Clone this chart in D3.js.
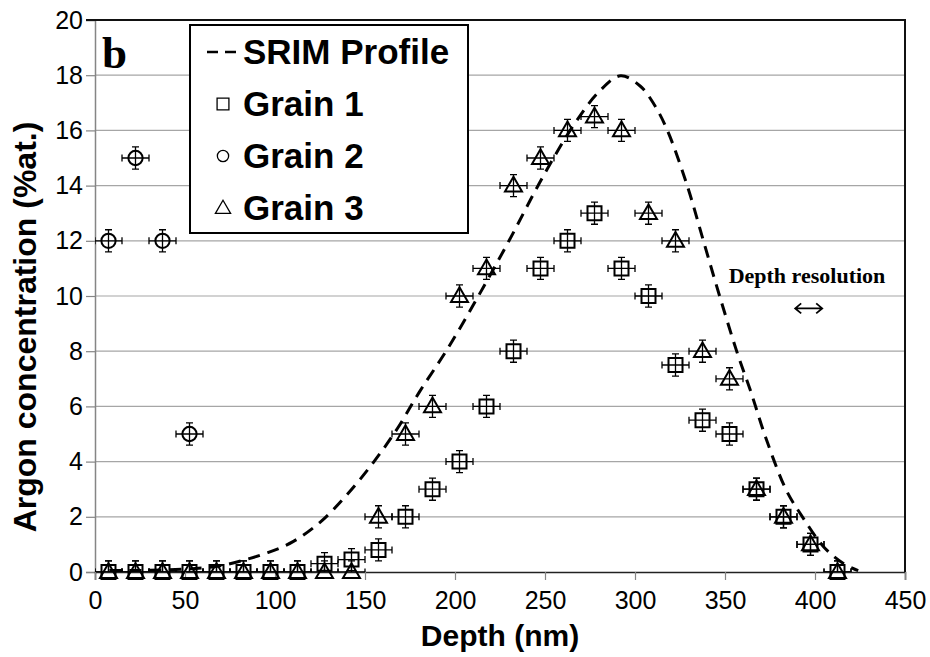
<!DOCTYPE html>
<html>
<head>
<meta charset="UTF-8">
<title>Argon concentration depth profile</title>
<script src="https://cdn.jsdelivr.net/npm/d3@7"></script>
<style>
  body { margin: 0; background: #fff; }
  text { fill: #000; }
  .sans { font-family: Arial, "Liberation Sans", sans-serif; }
  .serif { font-family: "Liberation Serif", "Times New Roman", serif; }
</style>
</head>
<body>
<svg id="chart" width="930" height="657"></svg>
<script>
// measured depths (nm), shared by grain 1 and grain 3
const depths = [7.5, 22.5, 37.5, 52.5, 67.5, 82.5, 97.5, 112.5, 127.5, 142.5, 157.5, 172.5, 187.5, 202.5,
                217.5, 232.5, 247.5, 262.5, 277.5, 292.5, 307.5, 322.5, 337.5, 352.5, 367.5, 382.5, 397.5, 412.5];
const grain1 = [0, 0, 0, 0, 0, 0, 0, 0, 0.3, 0.45, 0.8, 2, 3, 4,
                6, 8, 11, 12, 13, 11, 10, 7.5, 5.5, 5, 3, 2, 1, 0];
const grain3 = [0, 0, 0, 0, 0, 0, 0, 0, 0, 0, 2, 5, 6, 10,
                11, 14, 15, 16, 16.5, 16, 13, 12, 8, 7, 3, 2, 1, 0];
const grain2Depths = [7.5, 22.5, 37.5, 52.5];
const grain2 = [12, 15, 12, 5];

// SRIM simulated profile
const srimDepths = [8, 30, 54, 69, 82, 96, 110, 125, 140, 155, 168, 180, 196, 213, 230, 247, 265, 280, 292,
                    303, 311, 318, 329, 338, 347, 357, 364, 373, 384, 393, 405, 416, 424];
const srimValues = [0.05, 0.06, 0.12, 0.22, 0.42, 0.7, 1.1, 1.8, 2.8, 4.0, 5.2, 6.5, 8.1, 10, 12, 14.1, 16.1, 17.4, 17.98,
                    17.6, 16.9, 16, 14, 12, 10, 7.9, 6.6, 4.8, 2.97, 2.0, 0.9, 0.3, 0.05];

const depthErr = 7.5;   // nm
const concErr = 0.4;    // %at.

const xTicks = [0, 50, 100, 150, 200, 250, 300, 350, 400, 450];
const yTicks = [0, 2, 4, 6, 8, 10, 12, 14, 16, 18, 20];
const legendLabels = ["SRIM Profile", "Grain 1", "Grain 2", "Grain 3"];

const svg = d3.select("#chart");
const plot = { left: 95, right: 905, top: 20, bottom: 572 };

const x = d3.scaleLinear().domain([0, 450]).range([plot.left, plot.right]);
const y = d3.scaleLinear().domain([0, 20]).range([plot.bottom, plot.top]);

svg.append("defs").append("clipPath").attr("id", "plotclip")
  .append("rect")
  .attr("x", plot.left).attr("y", plot.top)
  .attr("width", plot.right - plot.left).attr("height", plot.bottom - plot.top);

// gridlines
svg.append("g")
  .selectAll("line")
  .data(yTicks.filter(d => d > 0 && d < 20))
  .join("line")
  .attr("x1", plot.left).attr("x2", plot.right)
  .attr("y1", d => y(d)).attr("y2", d => y(d))
  .attr("stroke", "#a6a6a6").attr("stroke-width", 1.2);

// y axis
const yAxis = svg.append("g")
  .attr("transform", `translate(${plot.left},0)`)
  .call(d3.axisLeft(y).tickValues(yTicks).tickSize(9).tickPadding(3).tickFormat(d3.format("d")));
yAxis.select(".domain").attr("stroke", "#858585").attr("stroke-width", 1.5);
yAxis.selectAll(".tick line").attr("stroke", "#858585").attr("stroke-width", 1.2);
yAxis.selectAll(".tick text").attr("class", "sans").attr("font-size", 25).attr("fill", "#000");

// x axis
const xAxis = svg.append("g")
  .attr("transform", `translate(0,${plot.bottom})`)
  .call(d3.axisBottom(x).tickValues(xTicks).tickSize(8).tickPadding(11));
xAxis.select(".domain").attr("stroke", "#222").attr("stroke-width", 1.5);
xAxis.selectAll(".tick line").attr("stroke", "#858585").attr("stroke-width", 1.2);
xAxis.selectAll(".tick text").attr("class", "sans").attr("font-size", 25).attr("fill", "#000");

// top and right border
svg.append("path")
  .attr("d", `M${plot.left - 9},${plot.top}H${plot.right}V${plot.bottom}`)
  .attr("fill", "none").attr("stroke", "#111").attr("stroke-width", 2);

// SRIM curve
const srim = srimDepths.map((d, i) => [d, srimValues[i]]);
svg.append("path")
  .datum(srim)
  .attr("d", d3.line().x(d => x(d[0])).y(d => y(d[1])).curve(d3.curveCatmullRom.alpha(0.5)))
  .attr("fill", "none").attr("stroke", "#000").attr("stroke-width", 3)
  .attr("stroke-dasharray", "12,8");

const series = [
  { name: "Grain 1", shape: "square", pts: depths.map((d, i) => [d, grain1[i]]) },
  { name: "Grain 2", shape: "circle", pts: grain2Depths.map((d, i) => [d, grain2[i]]) },
  { name: "Grain 3", shape: "triangle", pts: depths.map((d, i) => [d, grain3[i]]) }
];

// error bars, clipped to the plot area
const errG = svg.append("g").attr("clip-path", "url(#plotclip)")
  .attr("stroke", "#000").attr("stroke-width", 1.3);
series.forEach(s => {
  s.pts.forEach(p => {
    const cx = x(p[0]), cy = y(p[1]);
    const x0 = x(p[0] - depthErr), x1 = x(p[0] + depthErr);
    const y0 = y(p[1] - concErr), y1 = y(p[1] + concErr);
    errG.append("path")
      .attr("d", `M${x0},${cy}H${x1}M${x0},${cy - 3.5}V${cy + 3.5}M${x1},${cy - 3.5}V${cy + 3.5}` +
                 `M${cx},${y0}V${y1}M${cx - 3.5},${y0}H${cx + 3.5}M${cx - 3.5},${y1}H${cx + 3.5}`)
      .attr("fill", "none");
  });
});

const symbolPath = (shape, size) => {
  if (shape === "square") return d3.symbol(d3.symbolSquare, size)();
  if (shape === "circle") return d3.symbol(d3.symbolCircle, size)();
  return d3.symbol(d3.symbolTriangle, size)();
};

series.forEach(s => {
  svg.append("g").selectAll("path")
    .data(s.pts)
    .join("path")
    .attr("transform", d => `translate(${x(d[0])},${y(d[1]) + (s.shape === "triangle" ? 1 : 0)})`)
    .attr("d", symbolPath(s.shape, s.shape === "triangle" ? 125 : s.shape === "circle" ? 160 : 196))
    .attr("fill", "none").attr("stroke", "#000").attr("stroke-width", 2);
});

// axis titles
svg.append("text")
  .attr("class", "sans")
  .attr("x", (plot.left + plot.right) / 2).attr("y", 646)
  .attr("text-anchor", "middle").attr("font-size", 30).attr("font-weight", "bold")
  .text("Depth (nm)");
svg.append("text")
  .attr("class", "sans")
  .attr("transform", "translate(36,327) rotate(-90)")
  .attr("text-anchor", "middle").attr("font-size", 32).attr("font-weight", "bold")
  .text("Argon concentration (%at.)");

// panel letter
svg.append("text")
  .attr("class", "serif")
  .attr("x", 102).attr("y", 68)
  .attr("font-size", 45).attr("font-weight", "bold")
  .text("b");

// depth resolution annotation
svg.append("text")
  .attr("class", "serif")
  .attr("x", 807).attr("y", 283).attr("text-anchor", "middle")
  .attr("font-size", 22).attr("font-weight", "bold")
  .text("Depth resolution");
const ay = y(9.55), ax0 = x(389), ax1 = x(404);
svg.append("path")
  .attr("d", `M${ax0},${ay}H${ax1}M${ax0 + 6},${ay - 5}L${ax0},${ay}L${ax0 + 6},${ay + 5}` +
             `M${ax1 - 6},${ay - 5}L${ax1},${ay}L${ax1 - 6},${ay + 5}`)
  .attr("fill", "none").attr("stroke", "#000").attr("stroke-width", 1.8);

// legend
const legend = svg.append("g").attr("transform", "translate(190,25)");
legend.append("rect")
  .attr("width", 278).attr("height", 208)
  .attr("fill", "#fff").attr("stroke", "#000").attr("stroke-width", 2);
const legendShapes = [null, "square", "circle", "triangle"];
legendLabels.forEach((label, i) => {
  const cy = 27 + i * 52;
  if (i === 0) {
    legend.append("line")
      .attr("x1", 17).attr("x2", 48).attr("y1", cy).attr("y2", cy)
      .attr("stroke", "#000").attr("stroke-width", 2.5).attr("stroke-dasharray", "11,7");
  } else {
    legend.append("path")
      .attr("transform", `translate(33,${cy + (legendShapes[i] === "triangle" ? 1 : 0)})`)
      .attr("d", symbolPath(legendShapes[i], legendShapes[i] === "square" ? 140 : 100))
      .attr("fill", "none").attr("stroke", "#000").attr("stroke-width", 1.3);
  }
  legend.append("text")
    .attr("class", "sans")
    .attr("x", 53).attr("y", cy + 12)
    .attr("font-size", 35).attr("font-weight", "bold")
    .text(label);
});
</script>
</body>
</html>
